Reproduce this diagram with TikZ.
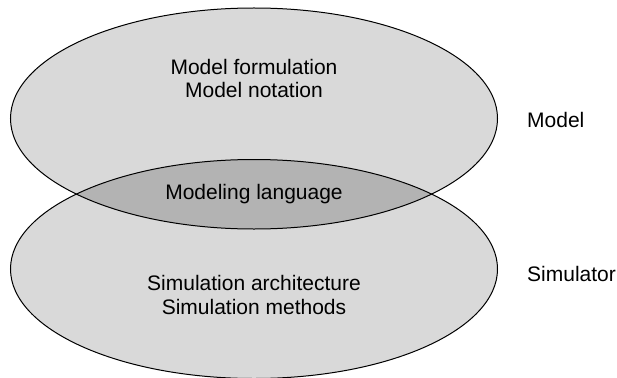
\documentclass[tikz,border=0pt]{standalone}
\usepackage{fontspec}
\setmainfont{Liberation Sans}
\definecolor{lightgr}{HTML}{D9D9D9}
\definecolor{darkgr}{HTML}{B3B3B3}
\begin{document}
\begin{tikzpicture}[x=1pt,y=-1pt,
  lbl/.style={font=\fontsize{21}{24}\selectfont, inner sep=0pt, align=center, anchor=base},
  side/.style={font=\fontsize{21}{24}\selectfont, inner sep=0pt, anchor=base west},
  outline/.style={draw=black, line width=1pt}]
\useasboundingbox (0,0) rectangle (617,377);
\def\topell{(254,118.5) ellipse [x radius=243.5pt, y radius=110.5pt]}
\def\botell{(254,269) ellipse [x radius=243.5pt, y radius=109.5pt]}
\fill[lightgr] \topell;
\fill[lightgr] \botell;
\begin{scope}
  \clip \topell;
  \fill[darkgr] \botell;
\end{scope}
\draw[outline] \topell;
\draw[outline] \botell;
% base anchor of a multi-line node = baseline of its last line
\node[lbl] (modeltext) at (254,98) {Model formulation\\Model notation};
\node[lbl] (langtext) at (254,199) {Modeling language};
\node[lbl] (simtext) at (254,314) {Simulation architecture\\Simulation methods};
\node[side] (modellbl) at (527,127) {Model};
\node[side] (simlbl) at (527,281) {Simulator};
\end{tikzpicture}
\end{document}
